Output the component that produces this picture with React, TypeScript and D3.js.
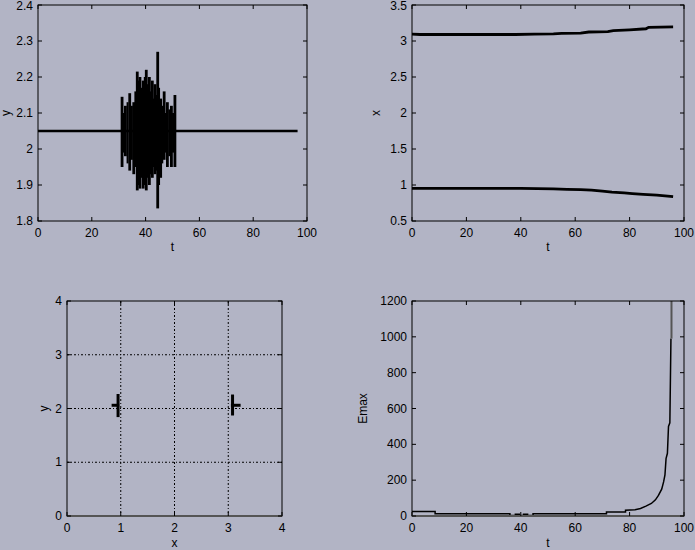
import React from "react";
import * as d3 from "d3";

// ---------- data ----------
// top-left: y(t)
const baseLineT = [0, 96.5];
const baseLineY = [2.05, 2.05];
const spikeT = [31.25, 32.5, 34.1, 35.6, 36.9, 37.9, 39.1, 40.25, 41.4, 42.5, 43.5, 44.5, 45.6, 46.9, 48.1, 49.6, 50.9];
const spikeHi = [2.145, 2.12, 2.155, 2.13, 2.215, 2.2, 2.19, 2.22, 2.2, 2.19, 2.18, 2.27, 2.14, 2.16, 2.13, 2.12, 2.15];
const spikeLo = [1.95, 1.98, 1.94, 1.93, 1.885, 1.89, 1.89, 1.885, 1.9, 1.92, 1.93, 1.835, 1.92, 1.97, 1.95, 1.95, 1.95];
// in-between shorter oscillations
const midT = [31.9, 33.3, 34.9, 36.2, 37.4, 38.5, 39.7, 40.8, 41.9, 43.0, 44.0, 45.0, 46.2, 47.5, 48.8, 50.2];
const midHi = [2.1, 2.13, 2.12, 2.16, 2.19, 2.17, 2.2, 2.18, 2.16, 2.14, 2.15, 2.17, 2.12, 2.1, 2.11, 2.1];
const midLo = [1.99, 1.96, 1.97, 1.95, 1.9, 1.92, 1.9, 1.92, 1.93, 1.95, 1.94, 1.9, 1.96, 1.99, 1.98, 1.99];

// top-right: x(t) for two particles
const xUpperT = [0, 3, 38, 45, 52, 55, 62, 65, 72, 74, 80, 86, 87, 96];
const xUpperV = [3.095, 3.09, 3.09, 3.095, 3.1, 3.107, 3.11, 3.125, 3.13, 3.145, 3.155, 3.17, 3.19, 3.195];
const xLowerT = [0, 40, 46, 52, 57, 62, 66, 70, 73.5, 78, 81, 85, 90, 96];
const xLowerV = [0.954, 0.954, 0.95, 0.945, 0.94, 0.935, 0.93, 0.915, 0.9, 0.89, 0.88, 0.87, 0.86, 0.84];

// bottom-left: y vs x crosses
const crossXc = [0.95, 3.08];
const crossXmin = [0.83, 3.05];
const crossXmax = [0.97, 3.23];
const crossYmin = [1.84, 1.87];
const crossYmax = [2.27, 2.26];
const crossY = [2.06, 2.06];

// bottom-right: Emax(t)
const eT = [0, 8.5, 8.5, 36, 36, 38, 38, 39.5, 39.5, 41, 41, 42.5, 42.5, 44.5, 44.5, 71.5, 71.5, 78.5, 78.5, 82, 84, 86, 88, 89.5, 90.6, 91.8, 92.5, 93, 93.4, 93.9, 94.3, 94.8, 95.2];
const eV = [25, 25, 12, 12, 3, 3, 10, 10, 3, 3, 10, 10, 3, 3, 12, 12, 22, 22, 32, 35, 42, 55, 70, 90, 115, 150, 190, 230, 320, 350, 500, 520, 990];
const eOverT = [95.4, 95.4];
const eOverV = [990, 1200];

// ticks
const tTicks = [0, 20, 40, 60, 80, 100];
const yTicksTL = [1.8, 1.9, 2, 2.1, 2.2, 2.3, 2.4];
const yTicksTR = [0.5, 1, 1.5, 2, 2.5, 3, 3.5];
const xyTicksBL = [0, 1, 2, 3, 4];
const yTicksBR = [0, 200, 400, 600, 800, 1000, 1200];

const BG = "#b2b4c5";
const FONT = "'Liberation Sans', Arial, Helvetica, sans-serif";

type AxesProps = {
  x0: number; x1: number; y0: number; y1: number;
  xDomain: [number, number]; yDomain: [number, number];
  xTicks: number[]; yTicks: number[];
  xLabel: string; yLabel: string;
  xLabelY: number; yLabelX: number;
  grid?: boolean;
  bottomGray?: boolean;
  children: (x: d3.ScaleLinear<number, number>, y: d3.ScaleLinear<number, number>) => React.ReactNode;
};

function Axes(p: AxesProps) {
  const x = d3.scaleLinear().domain(p.xDomain).range([p.x0, p.x1]);
  const y = d3.scaleLinear().domain(p.yDomain).range([p.y1, p.y0]);
  const tl = 4;
  const fmt = (v: number) => String(v);
  const cid = `clip-${p.x0}-${p.y0}`;
  return (
    <g>
      <defs>
        <clipPath id={cid}>
          <rect x={p.x0} y={p.y0} width={p.x1 - p.x0} height={p.y1 - p.y0} />
        </clipPath>
      </defs>
      {p.grid && (
        <g stroke="#000" strokeWidth={1} strokeDasharray="2,2,1,2">
          {p.xTicks.slice(1, -1).map((v) => (
            <line key={"gx" + v} x1={x(v)} x2={x(v)} y1={p.y0} y2={p.y1} />
          ))}
          {p.yTicks.slice(1, -1).map((v) => (
            <line key={"gy" + v} x1={p.x0} x2={p.x1} y1={y(v)} y2={y(v)} />
          ))}
        </g>
      )}
      <g clipPath={`url(#${cid})`}>{p.children(x, y)}</g>
      <rect x={p.x0} y={p.y0} width={p.x1 - p.x0} height={p.y1 - p.y0} fill="none" stroke="#000" strokeWidth={1} />
      {p.bottomGray && (
        <line x1={p.x0} x2={p.x1} y1={p.y1} y2={p.y1} stroke="#555" strokeWidth={2} />
      )}
      <g stroke="#000" strokeWidth={1}>
        {p.xTicks.map((v) => (
          <g key={"xt" + v}>
            <line x1={x(v)} x2={x(v)} y1={p.y1} y2={p.y1 - tl} />
            <line x1={x(v)} x2={x(v)} y1={p.y0} y2={p.y0 + tl} />
          </g>
        ))}
        {p.yTicks.map((v) => (
          <g key={"yt" + v}>
            <line x1={p.x0} x2={p.x0 + tl} y1={y(v)} y2={y(v)} />
            <line x1={p.x1} x2={p.x1 - tl} y1={y(v)} y2={y(v)} />
          </g>
        ))}
      </g>
      <g fontFamily={FONT} fontSize={12} fill="#000">
        {p.xTicks.map((v) => (
          <text key={"xl" + v} x={x(v)} y={p.y1 + 16} textAnchor="middle">{fmt(v)}</text>
        ))}
        {p.yTicks.map((v) => (
          <text key={"yl" + v} x={p.x0 - 5} y={Math.max(y(v) + 4, 10)} textAnchor="end">{fmt(v)}</text>
        ))}
        <text x={(p.x0 + p.x1) / 2} y={p.xLabelY} textAnchor="middle">{p.xLabel}</text>
        <text
          x={p.yLabelX}
          y={(p.y0 + p.y1) / 2}
          textAnchor="middle"
          transform={`rotate(-90 ${p.yLabelX} ${(p.y0 + p.y1) / 2})`}
        >{p.yLabel}</text>
      </g>
    </g>
  );
}

export default function App() {
  const W = 695, H = 550;
  const line = (xs: number[], ys: number[], x: any, y: any) =>
    d3.line<number>().x((_, i) => x(xs[i])).y((_, i) => y(ys[i]))(xs.map((_, i) => i)) || "";
  return (
    <svg
      width={W}
      height={H}
      style={{ position: "absolute", left: 0, top: 0, background: BG, display: "block" }}
    >
      <rect x={0} y={0} width={W} height={H} fill={BG} />
      {/* top-left */}
      <Axes x0={38} x1={307} y0={5} y1={221} xDomain={[0, 100]} yDomain={[1.8, 2.4]}
        xTicks={tTicks} yTicks={yTicksTL} xLabel="t" yLabel="y" xLabelY={251} yLabelX={10}>
        {(x, y) => (
          <g>
            <path d={line(baseLineT, baseLineY, x, y)} fill="none" stroke="#000" strokeWidth={2.5} />
            {spikeT.map((t, i) => (
              <line key={"s" + i} x1={x(t)} x2={x(t)} y1={y(spikeHi[i])} y2={y(spikeLo[i])} stroke="#000" strokeWidth={2.8} />
            ))}
            {midT.map((t, i) => (
              <line key={"m" + i} x1={x(t)} x2={x(t)} y1={y(midHi[i])} y2={y(midLo[i])} stroke="#000" strokeWidth={2} />
            ))}
          </g>
        )}
      </Axes>
      {/* top-right */}
      <Axes x0={412} x1={684} y0={5} y1={221} xDomain={[0, 100]} yDomain={[0.5, 3.5]}
        xTicks={tTicks} yTicks={yTicksTR} xLabel="t" yLabel="x" xLabelY={251} yLabelX={380}>
        {(x, y) => (
          <g fill="none" stroke="#000" strokeWidth={2.8}>
            <path d={line(xUpperT, xUpperV, x, y)} />
            <path d={line(xLowerT, xLowerV, x, y)} />
          </g>
        )}
      </Axes>
      {/* bottom-left */}
      <Axes x0={67} x1={282} y0={301} y1={516} xDomain={[0, 4]} yDomain={[0, 4]}
        xTicks={xyTicksBL} yTicks={xyTicksBL} xLabel="x" yLabel="y" xLabelY={547} yLabelX={48}
        grid bottomGray>
        {(x, y) => (
          <g stroke="#000" strokeWidth={3}>
            {crossXc.map((xc, i) => (
              <g key={i}>
                <line x1={x(xc)} x2={x(xc)} y1={y(crossYmax[i])} y2={y(crossYmin[i])} />
                <line x1={x(crossXmin[i])} x2={x(crossXmax[i])} y1={y(crossY[i])} y2={y(crossY[i])} />
              </g>
            ))}
          </g>
        )}
      </Axes>
      {/* bottom-right */}
      <Axes x0={412} x1={684} y0={301} y1={516} xDomain={[0, 100]} yDomain={[0, 1200]}
        xTicks={tTicks} yTicks={yTicksBR} xLabel="t" yLabel="Emax" xLabelY={547} yLabelX={367}
        bottomGray>
        {(x, y) => (
          <g fill="none">
            <path d={line(eT, eV, x, y)} stroke="#000" strokeWidth={1.5} />
            <path d={line(eOverT, eOverV, x, y)} stroke="#555" strokeWidth={2} />
          </g>
        )}
      </Axes>
    </svg>
  );
}
